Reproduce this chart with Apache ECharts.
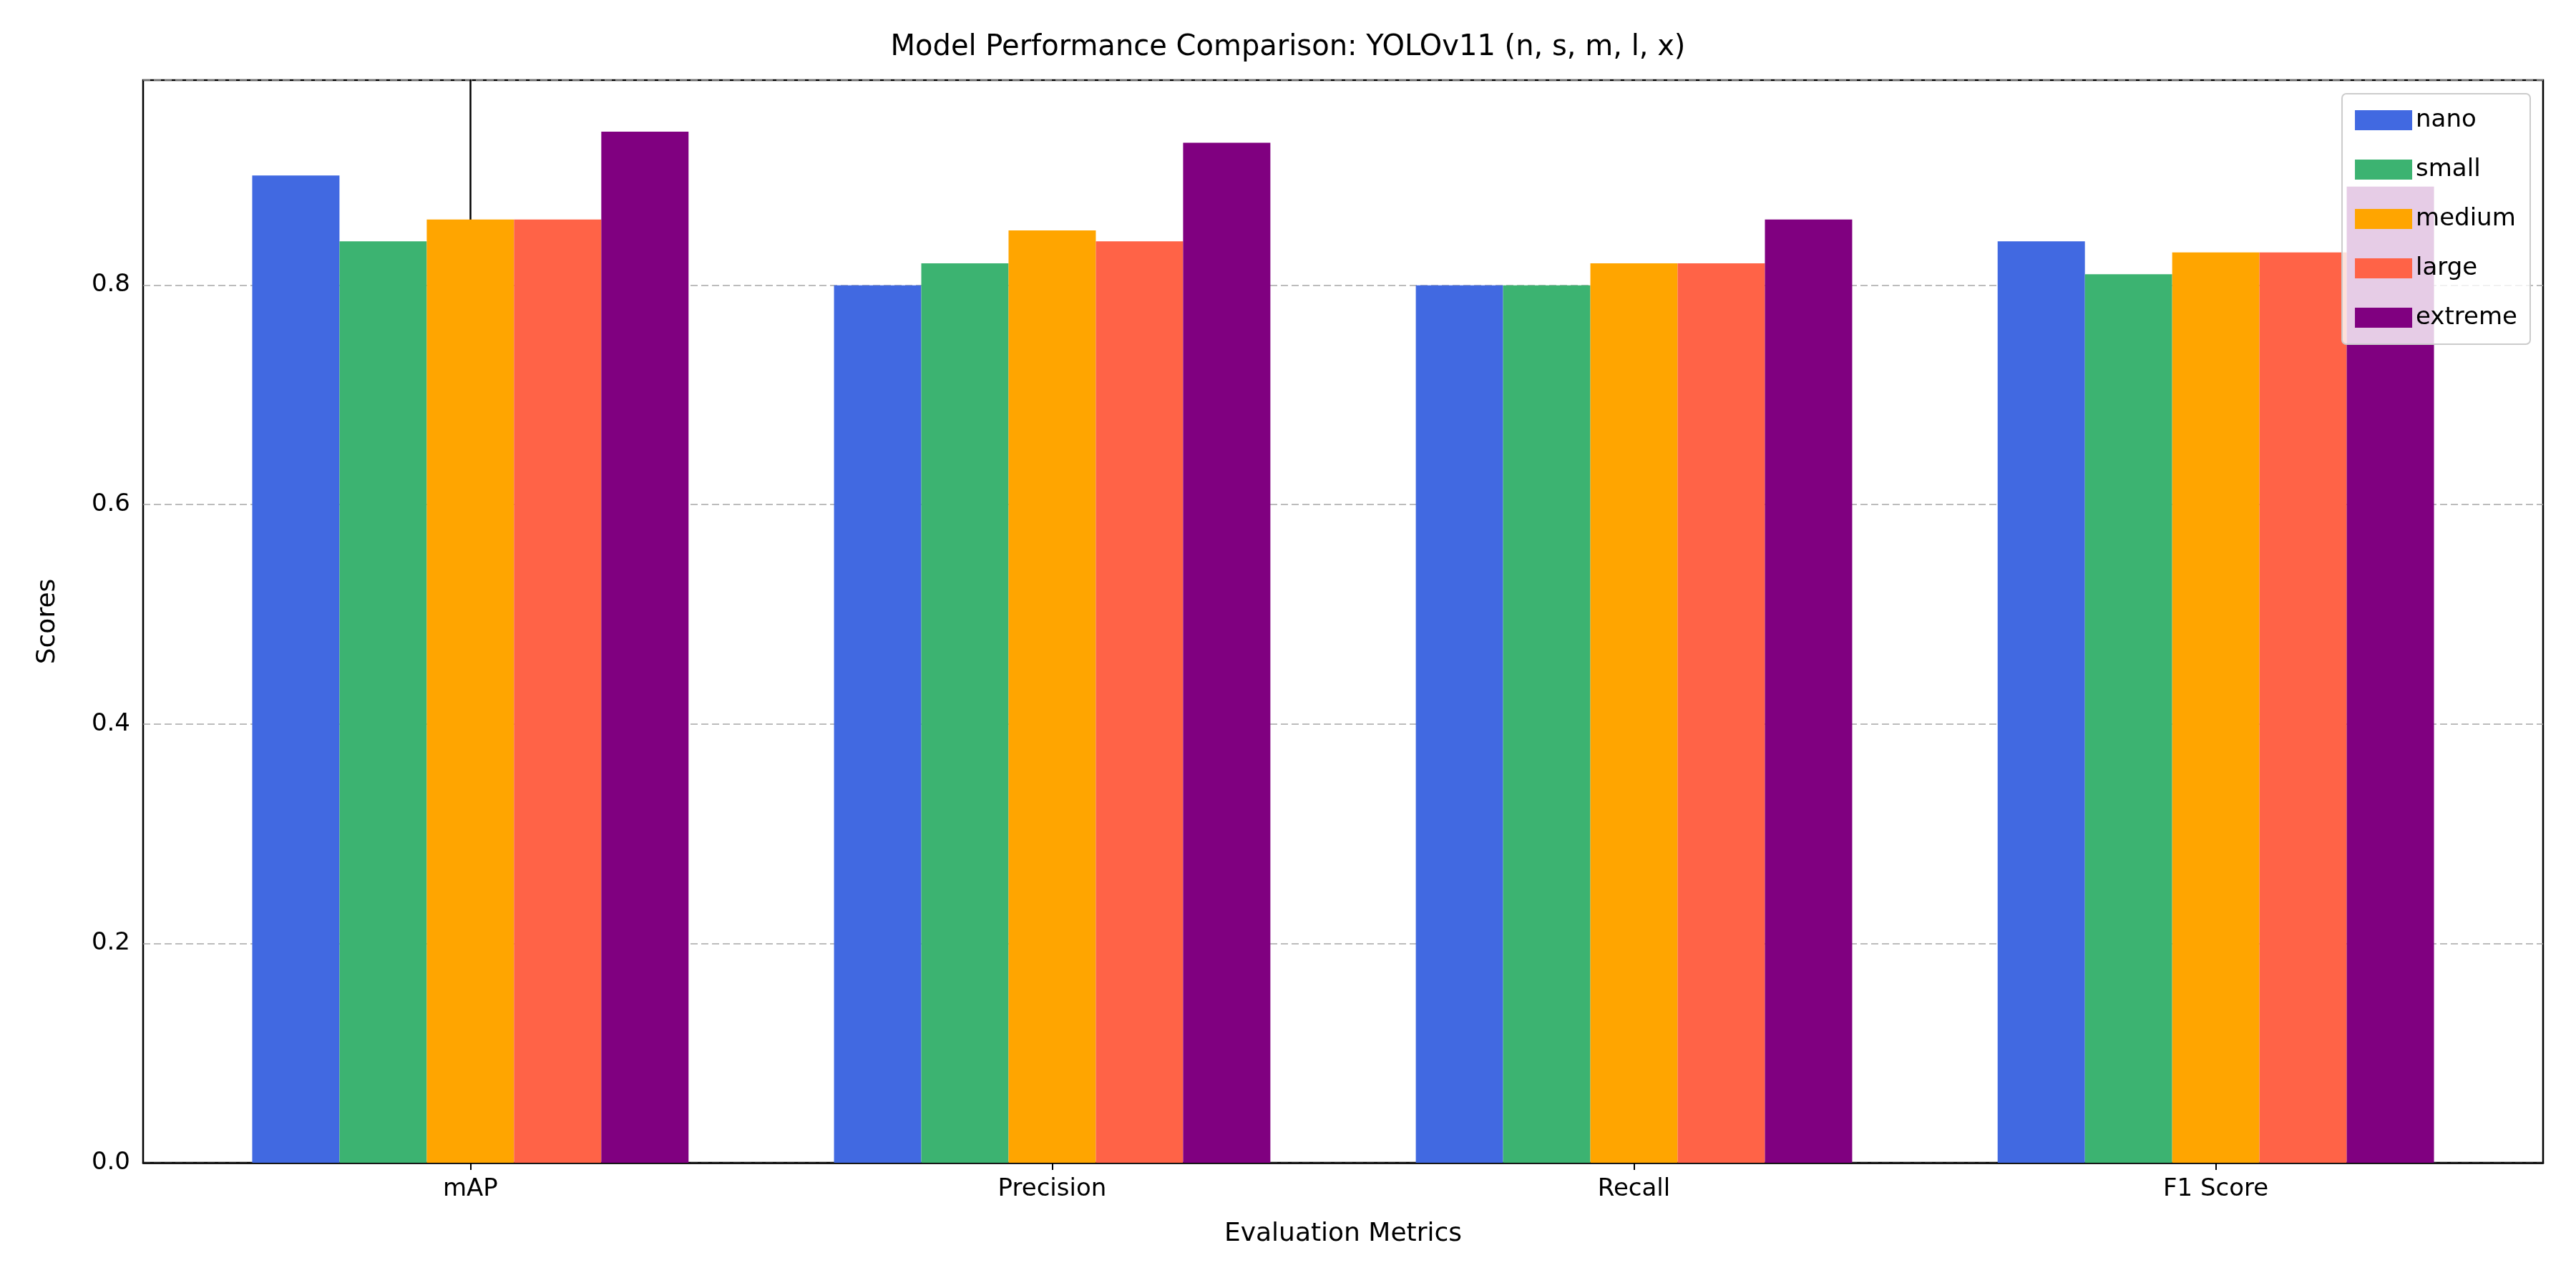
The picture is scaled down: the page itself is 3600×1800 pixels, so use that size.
<!DOCTYPE html>
<html>
<head>
<meta charset="utf-8">
<script src="https://cdn.jsdelivr.net/npm/echarts@6/dist/echarts.min.js"></script>
<style>html,body{margin:0;padding:0;background:#fff}#chart{width:3600px;height:1800px}</style>
</head>
<body>
<div id="chart"></div>
<script>
var categories = ['mAP', 'Precision', 'Recall', 'F1 Score'];
var models = ['nano', 'small', 'medium', 'large', 'extreme'];
var colors = ['#4169e1', '#3cb371', '#ffa500', '#ff6347', '#800080'];
var nano = [0.90, 0.80, 0.80, 0.84];
var small = [0.84, 0.82, 0.80, 0.81];
var medium = [0.86, 0.85, 0.82, 0.83];
var large = [0.86, 0.84, 0.82, 0.83];
var extreme = [0.94, 0.93, 0.86, 0.89];
var values = [nano, small, medium, large, extreme];

var myChart = echarts.init(document.getElementById('chart'));
var font = 'DejaVu Sans';
var gridLeft = 200, gridRight = 46, xMin = -0.5625, xMax = 3.5625;
var unitPx = (3600 - gridLeft - gridRight) / (xMax - xMin);
var barW = 0.15;

var series = models.map(function (m, k) {
    return {
        name: m,
        type: 'bar',
        barWidth: barW * unitPx,
        barGap: '-100%',
        itemStyle: {color: colors[k]},
        data: values[k].map(function (v, i) {
            return [i + (k - 2) * barW, v];
        })
    };
});

var option = {
    animation: false,
    textStyle: {fontFamily: font},
    title: {
        text: 'Model Performance Comparison: YOLOv11 (n, s, m, l, x)',
        left: 'center', top: 42,
        textStyle: {fontFamily: font, fontSize: 40, fontWeight: 'normal', color: '#000'}
    },
    grid: {
        left: gridLeft, right: gridRight, top: 112, bottom: 175,
        show: true, borderColor: '#000', borderWidth: 2.5, backgroundColor: 'transparent'
    },
    legend: {
        orient: 'vertical', right: 64, top: 131,
        itemWidth: 80, itemHeight: 28, itemGap: 35,
        padding: [20, 18, 20, 18],
        backgroundColor: 'rgba(255,255,255,0.8)',
        borderColor: '#cccccc', borderWidth: 2, borderRadius: 6,
        icon: 'rect',
        textStyle: {fontFamily: font, fontSize: 34, color: '#000'},
        data: models
    },
    xAxis: {
        type: 'value', min: xMin, max: xMax,
        name: 'Evaluation Metrics', nameLocation: 'middle', nameGap: 82,
        nameTextStyle: {fontFamily: font, fontSize: 36, color: '#000'},
        splitLine: {show: false},
        axisLine: {show: true, lineStyle: {color: '#000', width: 2.5}},
        axisTick: {show: true, customValues: [0, 1, 2, 3], length: 10, lineStyle: {color: '#000', width: 2}},
        axisLabel: {
            customValues: [0, 1, 2, 3], fontSize: 34, color: '#000', margin: 20,
            formatter: function (v) { return categories[Math.round(v)]; }
        }
    },
    yAxis: {
        type: 'value', min: 0, max: 0.987, interval: 0.2,
        name: 'Scores', nameLocation: 'middle', nameGap: 115,
        nameTextStyle: {fontFamily: font, fontSize: 36, color: '#000'},
        axisLine: {show: true, lineStyle: {color: '#000', width: 2.5}},
        axisTick: {show: true, length: 10, lineStyle: {color: '#000', width: 2}},
        axisLabel: {
            fontSize: 34, color: '#000', margin: 18, showMaxLabel: false,
            formatter: function (v) { return v.toFixed(1); }
        },
        splitLine: {show: true, lineStyle: {color: 'rgba(160,160,160,0.7)', type: [10, 5], width: 2}}
    },
    series: series
};

myChart.setOption(option);
window.addEventListener('resize', function () { myChart.resize(); });
</script>
</body>
</html>
